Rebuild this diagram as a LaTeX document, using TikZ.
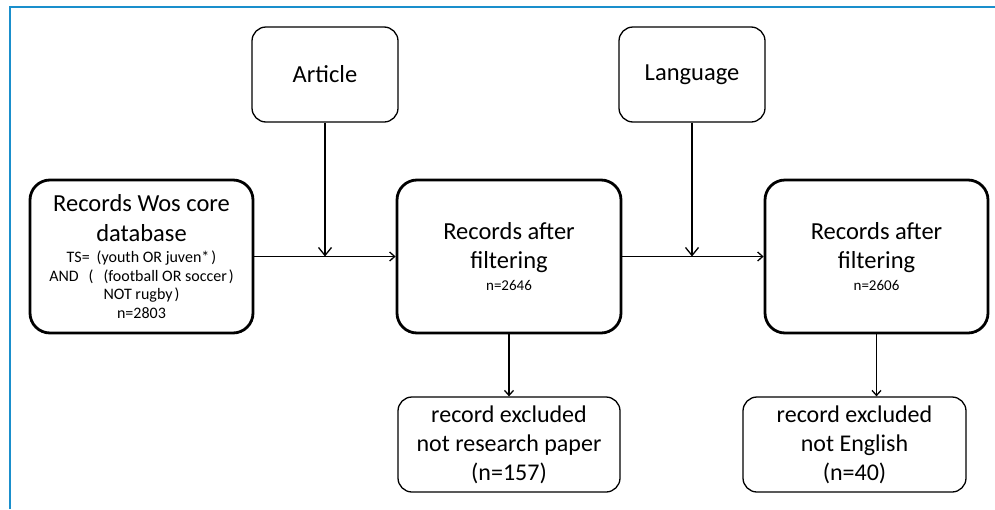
\documentclass[tikz,border=0pt]{standalone}
\usepackage{fontspec}
\setmainfont{Carlito}
\usepackage{tikz}
\usetikzlibrary{shapes,arrows,arrows.meta,positioning,calc}
\usepackage{xcolor}
\definecolor{frameblue}{RGB}{26,143,204}

\tikzset{
    bigbox/.style={rectangle,draw,line width=2.8pt,rounded corners=20pt,align=center,inner sep=0pt,font=\bigtxt},
    smallbox/.style={rectangle,draw,line width=1.3pt,rounded corners=14pt,align=center,inner sep=0pt,font=\bigtxt},
    flow/.style={line width=1.3pt,-{Straight Barb[length=5pt,width=9pt]}},
    feed/.style={line width=1.3pt,-{Straight Barb[length=8pt,width=13pt]}}
}
\newcommand{\bigtxt}{\fontsize{24.5}{29.5}\selectfont}
\newcommand{\midtxt}{\fontsize{16}{18.5}\selectfont}
\newcommand{\tinytxt}{\fontsize{15}{17}\selectfont}

\begin{document}
\begin{tikzpicture}[x=1pt,y=1pt]
        \useasboundingbox (0,0) rectangle (995,-509);
        % frame
        \draw[frameblue,line width=2pt] (10,-509) -- (10,-7) -- (995,-7);

        % filter boxes
        \node[smallbox,minimum width=146pt,minimum height=95pt] (article) at (325,-74.5) {Article};
        \node[smallbox,minimum width=146pt,minimum height=95pt] (language) at (692,-74.5) {Language};

        % records
        \node[bigbox,minimum width=223pt,minimum height=153pt] (wos) at (141.5,-256.5) {
            Records Wos core\\
            database\\[-8pt]
            \midtxt TS=\hspace{7pt}(youth OR juven*\hspace{2pt})\\[-11pt]
            \midtxt AND\hspace{10pt}(\hspace{10pt}(football OR soccer\hspace{2pt})\\[-11pt]
            \midtxt NOT rugby\hspace{2pt})\\[-11pt]
            \midtxt n=2803
        };
        \node[bigbox,minimum width=224pt,minimum height=153pt] (rec1) at (509,-256.5) {
            Records after\\
            filtering\\[-8pt]
            \tinytxt n=2646
        };
        \node[bigbox,minimum width=223pt,minimum height=153pt] (rec2) at (876.5,-256.5) {
            Records after\\
            filtering\\[-8pt]
            \tinytxt n=2606
        };

        % excluded
        \node[smallbox,minimum width=222pt,minimum height=95pt,font=\fontsize{24}{29}\selectfont] (excl1) at (509,-444.5) {
            record excluded\\
            not research paper\\
            (n=157)
        };
        \node[smallbox,minimum width=223pt,minimum height=95pt,font=\fontsize{24}{29}\selectfont] (excl2) at (854.5,-444.5) {
            record excluded\\
            not English\\
            (n=40)
        };

        % connectors
        \coordinate (joinA) at (article.south |- wos.east);
        \coordinate (joinL) at (language.south |- rec1.east);
        \draw[flow] (wos.east) -- (rec1.west);
        \draw[flow] (rec1.east) -- (rec2.west);
        \draw[feed] (article.south) -- (joinA);
        \draw[feed] (language.south) -- (joinL);
        \draw[flow] (rec1.south) -- (rec1.south |- excl1.north);
        \draw[flow] (rec2.south) -- (rec2.south |- excl2.north);
    \end{tikzpicture}
\end{document}
